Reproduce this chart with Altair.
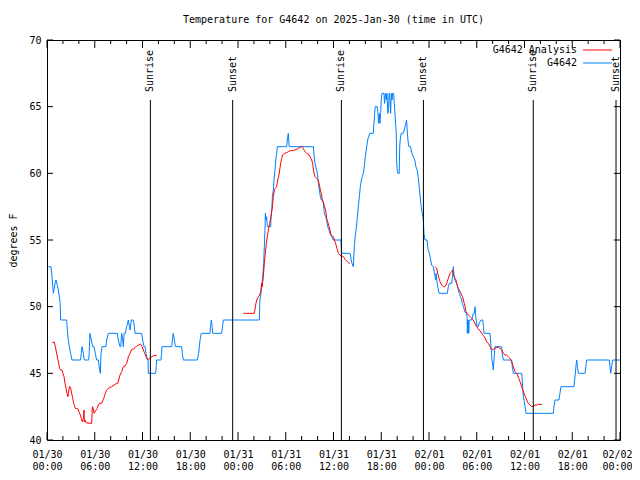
import json
import altair as alt
import pandas as pd

title_text = "Temperature for G4642 on 2025-Jan-30 (time in UTC)"
y_title = "degrees F"
series_names = ["G4642 Analysis", "G4642"]
series_colors = ["#ff0000", "#0080ff"]

day_labels = ["01/30", "01/31", "02/01", "02/02"]
hour_labels = ["00:00", "06:00", "12:00", "18:00"]
x_major_ticks = [0, 6, 12, 18, 24, 30, 36, 42, 48, 54, 60, 66, 72]
x_minor_ticks = [2, 4, 8, 10, 14, 16, 20, 22, 26, 28, 32, 34, 38, 40, 44, 46,
                 50, 52, 56, 58, 62, 64, 68, 70]
y_ticks = [40, 45, 50, 55, 60, 65, 70]

sun_events = ["Sunrise", "Sunset", "Sunrise", "Sunset", "Sunrise", "Sunset"]
sun_hours = [12.99, 23.33, 36.99, 47.3, 61.1, 71.5]

# hours since 01/30 00:00 UTC, temperature F
blue_points = [
    (0.17, 53), (0.50, 53), (0.55, 52.75), (0.63, 52.25), (0.80, 51.0), (1.0, 51.7),
    (1.13, 52.0), (1.30, 51.6), (1.42, 51.25), (1.55, 50.75), (1.65, 50.25), (1.72, 49),
    (2.47, 49), (2.55, 48.25), (2.68, 47.5), (2.81, 47), (2.97, 46.5), (3.14, 46),
    (4.23, 46), (4.30, 46.5), (4.40, 47), (4.57, 46.5), (4.69, 46), (5.24, 46),
    (5.30, 46.5), (5.40, 48), (5.57, 47.5), (5.74, 47), (5.91, 47), (6.07, 46.5),
    (6.24, 46), (6.45, 46), (6.58, 45.4), (6.70, 45), (6.79, 46.5), (6.91, 47),
    (7.41, 47), (7.5, 47.5), (7.71, 48), (8.84, 48), (8.96, 47.5), (9.17, 47),
    (9.26, 47), (9.38, 48), (9.51, 47.5), (9.59, 47), (9.68, 48), (9.84, 48),
    (10.01, 48.5), (10.22, 49), (10.35, 48.5), (10.43, 48.25), (10.60, 49), (10.85, 49),
    (10.98, 48.5), (11.06, 48), (11.90, 48), (12.02, 47.5), (12.19, 47), (12.32, 47),
    (12.45, 46.5), (12.61, 46), (12.70, 46), (12.73, 45), (13.66, 45), (13.72, 45.5),
    (13.78, 46), (14.33, 46), (14.40, 46.5), (14.45, 47), (15.67, 47), (15.75, 47.5),
    (15.87, 48), (16.0, 47.5), (16.13, 47), (16.92, 47), (17.0, 46.5), (17.13, 46),
    (18.89, 46), (19.06, 46.5), (19.23, 47.5), (19.39, 48), (20.48, 48), (20.55, 48.5),
    (20.65, 49), (20.75, 48.5), (20.82, 48), (21.95, 48), (22.05, 48.5), (22.16, 49),
    (26.68, 49), (26.75, 50.5), (26.89, 51.0), (27.1, 52.25), (27.23, 53.25),
    (27.31, 54.5), (27.39, 55.75), (27.44, 57.0), (27.52, 56.5), (27.6, 56.75),
    (27.69, 56.0), (28.11, 56.0), (28.15, 56.75), (28.25, 57.25), (28.32, 58.25),
    (28.44, 58.75), (28.52, 59.5), (28.65, 60.25), (28.74, 61.0), (28.86, 61.5),
    (28.94, 62.0), (30.12, 62.0), (30.24, 62.75), (30.33, 63.0), (30.40, 62.25),
    (30.45, 62.0), (33.47, 62.0), (33.6, 61.0), (33.77, 60.5), (33.97, 60.0),
    (34.1, 59.25), (34.22, 58.75), (34.35, 58.25), (34.47, 58.0), (34.6, 58.0),
    (34.72, 57.75), (34.85, 57.0), (35.02, 56.75), (35.14, 56.5), (35.27, 56.0),
    (35.44, 55.75), (35.56, 55.5), (35.77, 55.25), (35.98, 55.0), (36.94, 55.0),
    (37.03, 54.0), (38.08, 54.0), (38.29, 53.3), (38.49, 53.0), (38.62, 54.5),
    (38.75, 55.4), (38.87, 55.9), (39.0, 56.75), (39.12, 57.5), (39.25, 58.25),
    (39.37, 59.0), (39.5, 59.5), (39.62, 59.75), (39.75, 60.0), (39.87, 60.5),
    (40.0, 61.25), (40.17, 62.0), (40.29, 62.5), (40.42, 62.75), (40.54, 63.0),
    (41.0, 63.0), (41.17, 64.5), (41.25, 65.0), (41.5, 65.0), (41.58, 64.5),
    (41.67, 63.75), (41.75, 64.5), (41.84, 63.75), (41.92, 64.5), (42.0, 65.5),
    (42.09, 66.0), (42.34, 66.0), (42.42, 65.25), (42.54, 66.0), (42.65, 65.5),
    (42.71, 66.0), (42.75, 65.5), (42.84, 64.5), (42.92, 65.0), (43.0, 66.0),
    (43.09, 65.5), (43.18, 64.5), (43.26, 66.0), (43.35, 65.5), (43.43, 66.0),
    (43.55, 66.0), (43.64, 65.25), (43.72, 64.5), (43.8, 63.75), (43.89, 63.0),
    (43.93, 61.0), (44.0, 60.25), (44.09, 60.0), (44.26, 60.0), (44.32, 62.0),
    (44.38, 62.5), (44.51, 63.0), (44.76, 63.0), (44.88, 63.25), (44.98, 63.5),
    (45.1, 63.75), (45.18, 64.0), (45.26, 63.25), (45.35, 62.5), (45.47, 62.0),
    (45.68, 62.0), (45.81, 61.6), (46.01, 61.25), (46.22, 61.0), (46.35, 60.5),
    (46.52, 60.25), (46.64, 59.75), (46.77, 59.0), (46.89, 58.25), (47.02, 57.5),
    (47.23, 56.75), (47.29, 56.5), (47.37, 55.5), (47.5, 55.0), (47.75, 55.0),
    (47.85, 54.4), (47.92, 54.25), (48.05, 54.0), (48.13, 53.75), (48.25, 53.4),
    (48.34, 53.1), (48.55, 53.0), (48.65, 52.6), (48.76, 52.25), (48.85, 52.0),
    (48.9, 52.5), (48.97, 52.0), (49.1, 51.5), (49.18, 51.25), (49.26, 51.0),
    (50.3, 51.0), (50.43, 51.5), (50.55, 51.75), (50.85, 51.75), (50.95, 52.25),
    (51.06, 53.0), (51.15, 52.25), (51.27, 52.0), (51.48, 51.75), (51.6, 51.5),
    (51.69, 51.25), (51.82, 51.0), (51.94, 50.75), (52.1, 50.5), (52.2, 50.25),
    (52.32, 50.0), (52.45, 49.75), (52.53, 49.6), (52.7, 49.5), (52.78, 49.25),
    (52.82, 48.0), (52.87, 49.0), (52.94, 49.0), (53.0, 48.0), (53.05, 49.0),
    (53.36, 49.0), (53.57, 49.5), (53.7, 49.5), (53.78, 50.0), (53.84, 49.5),
    (53.92, 49.0), (54.05, 48.5), (54.2, 48.5), (54.3, 48.75), (54.54, 49.0),
    (54.75, 49.0), (54.85, 48.5), (54.92, 48.0), (55.67, 48.0), (55.79, 47.0),
    (55.92, 46.0), (56.0, 45.7), (56.08, 45.25), (56.17, 46.0), (56.29, 47.0),
    (57.13, 47.0), (57.21, 46.5), (57.34, 46.0), (58.39, 46.0), (58.47, 45.5),
    (58.6, 45.0), (59.65, 45.0), (59.77, 44.0), (59.86, 43.25), (59.94, 43.0),
    (60.07, 42.5), (60.19, 42.0), (63.62, 42.0), (63.7, 42.5), (63.83, 43.0),
    (64.33, 43.0), (64.45, 43.5), (64.59, 44.0), (66.22, 44.0), (66.3, 44.5),
    (66.39, 45.0), (66.48, 45.6), (66.56, 46.0), (66.65, 45.5), (66.77, 45.0),
    (67.61, 45.0), (67.7, 45.5), (67.81, 46.0), (70.66, 46.0), (70.75, 45.5),
    (70.83, 45.0), (70.95, 45.5), (71.08, 46.0), (72.0, 46.0),
]

red_day1 = [
    (0.67, 47.33), (0.92, 47.33), (1.05, 47.0), (1.21, 46.5), (1.34, 46.12),
    (1.47, 45.75), (1.59, 45.37), (1.72, 45.25), (1.88, 45.25), (2.01, 45.0),
    (2.14, 44.75), (2.26, 44.25), (2.39, 43.87), (2.51, 43.5), (2.64, 43.25),
    (2.70, 43.5), (2.81, 44.0), (2.89, 44.0), (2.97, 43.87), (3.1, 43.5),
    (3.23, 43.12), (3.35, 42.75), (3.56, 42.37), (3.81, 42.37), (3.94, 42.25),
    (4.06, 42.05), (4.19, 41.87), (4.31, 41.62), (4.44, 41.37), (4.57, 41.62),
    (4.65, 42.25), (4.69, 41.37), (4.82, 41.5), (4.9, 41.3), (5.32, 41.25),
    (5.61, 41.25), (5.70, 42.5), (5.82, 42.37), (5.91, 42.0), (6.03, 42.12),
    (6.16, 42.25), (6.33, 42.37), (6.45, 42.62), (6.58, 42.75), (6.87, 42.75),
    (7.08, 43.05), (7.21, 43.25), (7.33, 43.5), (7.5, 43.75), (7.71, 43.87),
    (8.13, 44.0), (8.42, 44.12), (8.76, 44.25), (8.88, 44.25), (9.01, 44.5),
    (9.17, 44.87), (9.38, 45.12), (9.59, 45.5), (9.8, 45.55), (10.01, 45.75),
    (10.14, 46.0), (10.22, 46.25), (10.43, 46.5), (10.64, 46.8), (10.85, 46.82),
    (11.06, 46.92), (11.27, 47.05), (11.48, 47.12), (11.69, 47.2), (11.81, 47.17),
    (11.94, 47.0), (12.11, 46.75), (12.27, 46.5), (12.44, 46.25), (12.61, 46.07),
    (12.86, 46.07), (13.03, 46.2), (13.19, 46.25), (13.36, 46.32), (13.57, 46.35),
    (13.78, 46.35),
]

red_day2 = [
    (24.67, 49.5), (26.05, 49.5), (26.22, 50.12), (26.35, 50.5), (26.56, 50.75),
    (26.72, 50.87), (26.85, 51.12), (26.97, 51.75), (27.05, 51.5), (27.18, 52.25),
    (27.31, 53.25), (27.43, 54.0), (27.56, 54.75), (27.69, 55.25), (27.81, 55.75),
    (27.98, 56.25), (28.15, 56.75), (28.32, 57.5), (28.44, 58.25), (28.57, 58.75),
    (28.69, 58.87), (28.86, 59.0), (28.99, 59.5), (29.11, 59.75), (29.24, 60.25),
    (29.36, 60.75), (29.49, 61.12), (29.61, 61.37), (29.82, 61.5), (30.12, 61.55),
    (30.33, 61.62), (30.54, 61.7), (30.74, 61.7), (30.95, 61.7), (31.16, 61.75),
    (31.58, 61.87), (31.79, 61.95), (32.0, 62.0), (32.12, 61.95), (32.25, 61.8),
    (32.42, 61.62), (32.63, 61.5), (32.84, 61.45), (33.05, 61.25), (33.26, 61.0),
    (33.38, 60.75), (33.51, 60.12), (33.68, 59.75), (33.89, 59.62), (34.1, 59.5),
    (34.22, 59.12), (34.35, 58.75), (34.47, 58.5), (34.6, 58.0), (34.72, 57.87),
    (34.85, 57.5), (35.02, 57.25), (35.14, 56.62), (35.27, 56.37), (35.44, 56.0),
    (35.56, 55.75), (35.69, 55.37), (35.86, 55.3), (35.98, 55.25), (36.19, 54.87),
    (36.32, 54.62), (36.44, 54.37), (36.61, 54.0), (36.82, 53.87), (37.03, 53.8),
    (37.24, 53.75), (37.45, 53.55), (37.86, 53.3), (38.08, 53.25),
]

red_day3 = [
    (48.76, 53.0), (48.97, 52.87), (49.09, 52.5), (49.26, 52.12), (49.39, 51.87),
    (49.6, 51.62), (49.8, 51.5), (50.01, 51.5), (50.14, 51.62), (50.22, 51.75),
    (50.35, 52.0), (50.43, 52.12), (50.64, 52.5), (50.85, 52.62), (50.97, 52.75),
    (51.06, 52.5), (51.18, 52.25), (51.27, 52.12), (51.39, 52.0), (51.48, 51.75),
    (51.6, 51.5), (51.69, 51.37), (51.81, 51.25), (51.9, 51.12), (52.02, 51.0),
    (52.1, 50.87), (52.23, 50.75), (52.32, 50.5), (52.44, 50.25), (52.53, 50.0),
    (52.65, 49.62), (52.78, 49.5), (52.94, 49.37), (53.15, 49.25), (53.36, 49.12),
    (53.57, 49.0), (53.78, 48.75), (53.99, 48.5), (54.12, 48.37), (54.29, 48.25),
    (54.41, 48.2), (54.62, 48.0), (54.75, 47.87), (54.96, 47.75), (55.25, 47.37),
    (55.46, 47.25), (55.67, 47.0), (55.88, 46.8), (56.08, 46.8), (56.29, 46.87),
    (56.5, 46.95), (56.71, 46.95), (56.92, 46.87), (57.13, 46.75), (57.34, 46.5),
    (57.55, 46.37), (57.76, 46.37), (57.97, 46.25), (58.18, 46.12), (58.39, 45.87),
    (58.6, 45.5), (58.81, 45.12), (59.02, 45.0), (59.14, 44.87), (59.27, 44.62),
    (59.44, 44.37), (59.65, 44.0), (59.77, 43.75), (59.94, 43.5), (60.11, 43.25),
    (60.27, 43.0), (60.48, 42.75), (60.69, 42.62), (60.9, 42.5), (61.11, 42.55),
    (61.32, 42.62), (61.53, 42.62), (61.74, 42.67), (62.03, 42.67), (62.2, 42.67),
]

FONT = "DejaVu Sans Mono"
W, H = 573, 400

blue_df = pd.DataFrame(blue_points, columns=["h", "T"])
red_frames = []
for i, seg in enumerate([red_day1, red_day2, red_day3]):
    d = pd.DataFrame(seg, columns=["h", "T"])
    d["seg"] = i
    red_frames.append(d)
red_df = pd.concat(red_frames, ignore_index=True)
sun_df = pd.DataFrame({"h": sun_hours, "event": sun_events})
xmaj_df = pd.DataFrame({"h": x_major_ticks})
xmin_df = pd.DataFrame({"h": x_minor_ticks})
ytk_df = pd.DataFrame({"T": y_ticks})

label_expr = (
    f"[{json.dumps(day_labels)}[floor(datum.value/24)], "
    f"{json.dumps(hour_labels)}[floor((datum.value%24)/6)]]"
)

x_enc = alt.X(
    "h:Q",
    scale=alt.Scale(domain=[0, 72], nice=False, zero=False),
    axis=alt.Axis(values=x_major_ticks, labelExpr=label_expr, title=None,
                  labelPadding=9, labelBaseline="top", labelLineHeight=12,
                  labelAlign="center", labelFlush=False,
                  labelOffset={"condition": {"test": "datum.value >= 72", "value": -3},
                               "value": 0}),
)
y_enc = alt.Y(
    "T:Q",
    scale=alt.Scale(domain=[40, 70], nice=False, zero=False),
    axis=alt.Axis(values=y_ticks, title=y_title, labelPadding=6,
                  titleX=-34, titleY=200, titleAngle=270, titleAlign="center",
                  titleBaseline="middle", titleFont=FONT, titleFontSize=10,
                  titleFontWeight="normal", titleColor="black"),
)

blue_line = alt.Chart(blue_df).mark_line(color=series_colors[1], strokeWidth=1).encode(
    x=x_enc, y=y_enc)
red_line = alt.Chart(red_df).mark_line(color=series_colors[0], strokeWidth=1).encode(
    x=x_enc, y=y_enc, detail="seg:N")

sun_rules = alt.Chart(sun_df).mark_rule(color="black", strokeWidth=1).encode(
    x=x_enc, y=alt.value(60), y2=alt.value(H))
sun_text = alt.Chart(sun_df).mark_text(
    angle=270, align="left", baseline="middle", font=FONT, fontSize=10, color="black"
).encode(x=x_enc, y=alt.value(52), text="event:N")

xmaj_bot = alt.Chart(xmaj_df).mark_rule(color="black").encode(
    x=x_enc, y=alt.value(H), y2=alt.value(H - 8))
xmaj_top = alt.Chart(xmaj_df).mark_rule(color="black").encode(
    x=x_enc, y=alt.value(0), y2=alt.value(8))
xmin_bot = alt.Chart(xmin_df).mark_rule(color="black").encode(
    x=x_enc, y=alt.value(H), y2=alt.value(H - 4))
xmin_top = alt.Chart(xmin_df).mark_rule(color="black").encode(
    x=x_enc, y=alt.value(0), y2=alt.value(4))
ytk_left = alt.Chart(ytk_df).mark_rule(color="black").encode(
    y=y_enc, x=alt.value(0), x2=alt.value(6))
ytk_right = alt.Chart(ytk_df).mark_rule(color="black").encode(
    y=y_enc, x=alt.value(W - 6), x2=alt.value(W))

leg_layers = []
for i, (name, col) in enumerate(zip(series_names, series_colors)):
    ld = pd.DataFrame({"name": [name]})
    ypos = 10 + 13 * i
    leg_layers.append(
        alt.Chart(ld).mark_text(align="right", baseline="middle", font=FONT,
                                fontSize=10, color="black")
        .encode(text="name:N", x=alt.value(530), y=alt.value(ypos)))
    leg_layers.append(
        alt.Chart(ld).mark_rule(color=col, strokeWidth=1)
        .encode(x=alt.value(536), x2=alt.value(565), y=alt.value(ypos)))

chart = alt.layer(
    blue_line, red_line, sun_rules, sun_text,
    xmaj_bot, xmaj_top, xmin_bot, xmin_top, ytk_left, ytk_right,
    *leg_layers,
).properties(
    width=W, height=H,
    title=alt.TitleParams(text=title_text, font=FONT, fontSize=10, fontWeight="normal",
                          color="black", anchor="middle", offset=10),
    padding={"left": 39, "top": 32, "right": 12, "bottom": 32},
    autosize=alt.AutoSizeParams(type="none"),
).configure_view(
    stroke="black", strokeWidth=1
).configure_axis(
    labelFont=FONT, labelFontSize=10, labelColor="black", grid=False,
    ticks=False, domain=False
)

chart.save("out.html", embed_options={"renderer": "svg", "actions": False})
